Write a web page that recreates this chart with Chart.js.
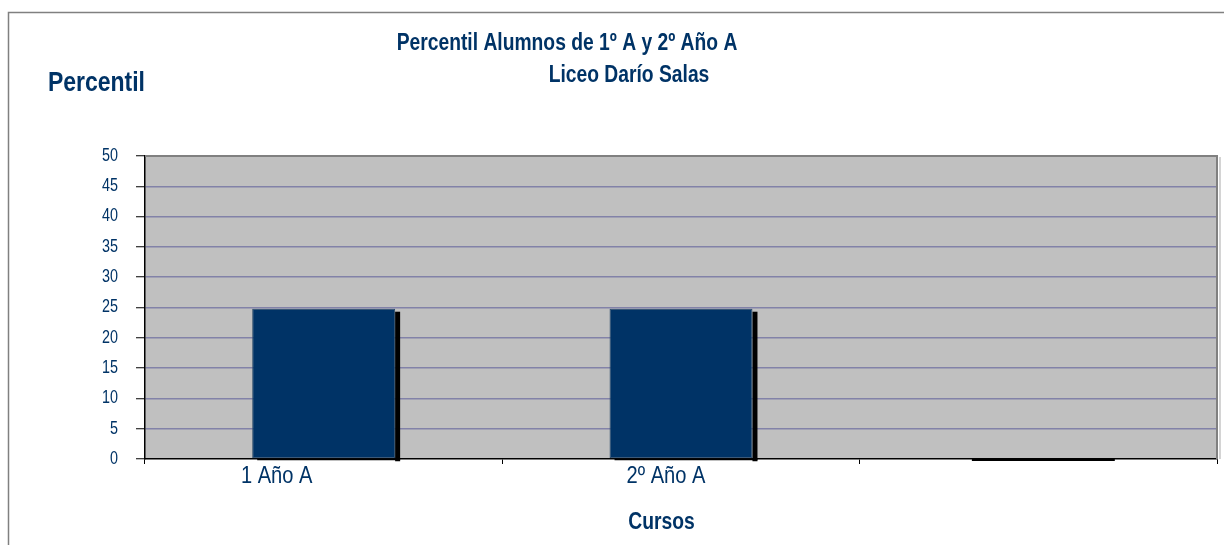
<!DOCTYPE html>
<html>
<head>
<meta charset="utf-8">
<script src="https://cdn.jsdelivr.net/npm/chart.js@4/dist/chart.umd.min.js"></script>
<style>
  html, body { margin: 0; padding: 0; background: #fff; }
  #wrap { position: relative; width: 1224px; height: 545px; }
</style>
</head>
<body>
<div id="wrap"><canvas id="chart"></canvas></div>
<script>
// ── data ──
const cursos = ['1 Año A', '2º Año A', ''];
const percentil = [24.8, 24.8, 0];
const yTicks = [0, 5, 10, 15, 20, 25, 30, 35, 40, 45, 50];

const titleLine1 = 'Percentil Alumnos de 1º A y 2º Año A';
const titleLine2 = 'Liceo Darío Salas';
const yTitle = 'Percentil';
const xTitle = 'Cursos';

// ── style ──
const NAVY = '#003366';
const FONT = "'Liberation Sans', Arial, sans-serif";
const NARROW = 0.82;            // Arial Narrow look: squeeze Liberation Sans
const xLabelShift = [-47, -15, 0];

// text squeezed horizontally
function narrowText(ctx, text, x, y, font, align) {
  ctx.save();
  ctx.font = font;
  ctx.textAlign = align || 'center';
  ctx.translate(x, y);
  ctx.scale(NARROW, 1);
  ctx.fillText(text, 0, 0);
  ctx.restore();
}

const decor = {
  id: 'decor',
  beforeDraw(chart) {
    const { ctx, chartArea: a } = chart;
    ctx.save();
    ctx.fillStyle = '#c0c0c0';
    ctx.fillRect(a.left, a.top, a.right - a.left, a.bottom - a.top);
    ctx.strokeStyle = '#808080';
    ctx.lineWidth = 1.5;
    ctx.beginPath();
    ctx.moveTo(8.5, 545);
    ctx.lineTo(8.5, 12.5);
    ctx.lineTo(1224, 12.5);
    ctx.stroke();
    ctx.restore();
  },
  beforeDatasetsDraw(chart) {
    // black drop shadow right of / below each bar
    const ctx = chart.ctx;
    const meta = chart.getDatasetMeta(0);
    ctx.save();
    ctx.fillStyle = '#000';
    meta.data.forEach(bar => {
      const { x, y, width, base } = bar.getProps(['x', 'y', 'width', 'base'], true);
      const right = x + width / 2;
      const left = x - width / 2;
      ctx.fillRect(right, y + 3, 5, base - y);
      ctx.fillRect(left + 5, base, width, 2);
    });
    ctx.restore();
  },
  afterDraw(chart) {
    const { ctx, chartArea: a } = chart;
    const xs = chart.scales.x, ys = chart.scales.y;
    ctx.save();
    ctx.strokeStyle = '#808080';
    ctx.lineWidth = 2;
    ctx.beginPath();
    ctx.moveTo(a.left, a.top);
    ctx.lineTo(a.right, a.top);
    ctx.lineTo(a.right, a.bottom);
    ctx.stroke();
    ctx.strokeStyle = '#d4d4d4';
    ctx.beginPath();
    ctx.moveTo(a.right + 3, a.top + 1);
    ctx.lineTo(a.right + 3, a.bottom);
    ctx.stroke();

    ctx.fillStyle = NAVY;
    ctx.textBaseline = 'alphabetic';
    narrowText(ctx, titleLine1, 567, 50, 'bold 23.5px ' + FONT);
    narrowText(ctx, titleLine2, 629, 82, 'bold 23.5px ' + FONT);
    narrowText(ctx, xTitle, 661.5, 529, 'bold 23.5px ' + FONT);
    narrowText(ctx, yTitle, 48, 91, 'bold 28px ' + FONT, 'left');

    cursos.forEach((c, i) => {
      narrowText(ctx, c, xs.getPixelForValue(i) + xLabelShift[i], 483, '24.5px ' + FONT);
    });
    ctx.textBaseline = 'middle';
    yTicks.forEach(v => {
      narrowText(ctx, String(v), 118, ys.getPixelForValue(v), '17.5px ' + FONT, 'right');
    });
    ctx.restore();
  }
};

new Chart(document.getElementById('chart'), {
  type: 'bar',
  data: {
    labels: cursos,
    datasets: [{
      label: 'Percentil',
      data: percentil,
      backgroundColor: NAVY,
      borderColor: '#2a4a6a',
      borderWidth: 1,
      borderSkipped: false,
      categoryPercentage: 1,
      barPercentage: 0.4,
    }],
  },
  options: {
    responsive: true, maintainAspectRatio: false, animation: false,
    layout: { padding: { top: 156, left: 0, right: 7, bottom: 0 } },
    plugins: { legend: { display: false }, title: { display: false }, tooltip: { enabled: false } },
    scales: {
      x: {
        grid: { offset: true, drawOnChartArea: false, drawTicks: true, tickLength: 5, tickColor: '#000', tickWidth: 1 },
        border: { color: '#000', width: 1.5 },
        ticks: { display: false },
        afterFit(s) { s.height = 86; },
      },
      y: {
        min: 0, max: 50,
        afterBuildTicks(s) { s.ticks = yTicks.map(v => ({ value: v })); },
        grid: {
          color: ctx => (ctx.tick && (ctx.tick.value === 50 || ctx.tick.value === 0)) ? 'rgba(0,0,0,0)' : '#8282a8',
          lineWidth: 1.5,
          tickLength: 9, tickColor: '#000', tickWidth: 1,
        },
        border: { color: '#000', width: 1.5 },
        ticks: { display: false },
        afterFit(s) { s.width = 145; },
      },
    },
  },
  plugins: [decor],
});
</script>
</body>
</html>
